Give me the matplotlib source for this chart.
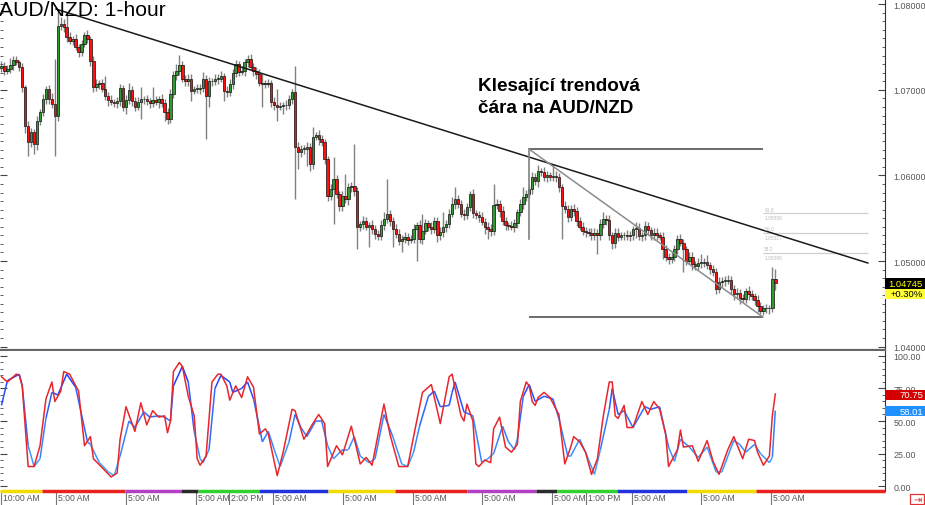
import numpy as np
import matplotlib
matplotlib.use("Agg")
import matplotlib.pyplot as plt
import matplotlib.transforms as mtransforms
from matplotlib.collections import LineCollection
from matplotlib.colors import LinearSegmentedColormap
from matplotlib.patches import Rectangle
from matplotlib.ticker import MultipleLocator

plt.rcParams['font.family'] = ['Liberation Sans', 'DejaVu Sans']

# =========================
# DATA (prices in pips above 1.04000, hourly candles)
# =========================

first_open_pips = 325
close_pips = [
    328, 322, 324, 329, 335, 332, 327, 303, 258, 239,
    251, 237, 264, 274, 289, 301, 289, 283, 269, 374,
    377, 373, 362, 357, 359, 350, 344, 353, 364, 359,
    334, 303, 307, 308, 301, 293, 288, 286, 285, 287,
    302, 280, 288, 300, 287, 280, 286, 289, 289, 287,
    285, 288, 286, 289, 285, 274, 266, 295, 317, 322,
    329, 313, 310, 313, 299, 301, 301, 302, 313, 293,
    310, 310, 313, 313, 316, 299, 297, 307, 320, 330,
    321, 322, 332, 336, 327, 322, 318, 308, 307, 307,
    308, 286, 282, 280, 281, 282, 282, 289, 297, 233,
    227, 231, 231, 233, 213, 245, 247, 242, 239, 219,
    176, 184, 196, 178, 164, 176, 172, 186, 188, 182,
    140, 143, 147, 140, 142, 137, 132, 129, 142, 149,
    155, 147, 137, 132, 123, 126, 128, 125, 126, 137,
    142, 126, 135, 144, 140, 137, 147, 130, 134, 140,
    143, 155, 167, 172, 167, 155, 154, 163, 178, 156,
    154, 151, 146, 140, 137, 135, 165, 167, 158, 147,
    142, 141, 140, 144, 157, 167, 175, 178, 184, 198,
    193, 205, 204, 198, 200, 198, 199, 198, 186, 164,
    161, 151, 161, 158, 147, 140, 135, 134, 133, 130,
    133, 130, 143, 149, 148, 130, 121, 133, 128, 130,
    130, 129, 130, 137, 139, 129, 130, 141, 136, 130,
    133, 130, 128, 114, 105, 102, 105, 114, 126, 121,
    114, 100, 105, 96, 94, 98, 98, 99, 95, 91,
    87, 67, 75, 77, 77, 78, 67, 61, 63, 57,
    56, 65, 61, 59, 54, 47, 42, 45, 45, 45,
    79, 74.5,
]

# wick lengths beyond the body, in pips
wick_up = [
    6, 4, 5, 8, 4, 5, 3, 4, 3, 5,
    4, 3, 5, 4, 6, 3, 5, 7, 53, 20,
    8, 6, 16, 5, 4, 6, 3, 5, 4, 6,
    4, 5, 6, 4, 5, 15, 4, 6, 3, 5,
    5, 4, 6, 8, 4, 5, 6, 14, 4, 5,
    4, 15, 5, 4, 6, 4, 5, 6, 5, 8,
    12, 5, 4, 6, 5, 4, 6, 5, 8, 4,
    5, 4, 6, 5, 6, 4, 5, 6, 4, 5,
    4, 6, 4, 5, 6, 4, 5, 6, 10, 4,
    5, 4, 6, 19, 5, 4, 6, 5, 4, 31,
    6, 5, 4, 6, 5, 11, 4, 6, 5, 3,
    4, 6, 25, 5, 4, 6, 26, 5, 4, 49,
    5, 4, 6, 5, 4, 6, 5, 4, 6, 8,
    41, 5, 4, 6, 5, 4, 6, 5, 4, 6,
    4, 6, 20, 5, 4, 6, 5, 4, 6, 17,
    5, 6, 8, 14, 5, 4, 6, 5, 4, 6,
    4, 5, 6, 4, 5, 6, 25, 5, 4, 6,
    5, 4, 6, 5, 4, 6, 12, 5, 4, 6,
    5, 7, 4, 6, 5, 4, 14, 6, 5, 4,
    6, 5, 4, 6, 5, 4, 6, 5, 4, 6,
    5, 4, 6, 8, 5, 6, 4, 5, 6, 4,
    4, 6, 5, 4, 6, 5, 4, 6, 5, 4,
    6, 5, 4, 6, 5, 4, 6, 5, 4, 6,
    5, 4, 6, 5, 4, 6, 10, 5, 8, 4,
    4, 5, 6, 4, 5, 6, 4, 5, 6, 4,
    5, 4, 6, 5, 4, 6, 5, 4, 5, 4,
    14, 12,
]
wick_dn = [
    4, 5, 3, 4, 6, 3, 5, 6, 8, 16,
    6, 12, 7, 5, 4, 6, 5, 4, 46, 5,
    4, 5, 6, 3, 5, 4, 6, 5, 3, 4,
    6, 5, 4, 6, 3, 5, 7, 4, 5, 6,
    6, 5, 8, 4, 6, 5, 4, 20, 6, 5,
    6, 5, 4, 7, 5, 10, 6, 5, 4, 6,
    5, 4, 6, 5, 12, 4, 5, 6, 4, 51,
    13, 5, 4, 6, 4, 12, 5, 4, 6, 5,
    5, 4, 6, 5, 4, 6, 5, 4, 27, 5,
    4, 6, 5, 16, 4, 9, 5, 4, 6, 61,
    20, 5, 6, 20, 8, 5, 4, 6, 5, 6,
    6, 5, 41, 4, 6, 5, 4, 6, 5, 6,
    26, 5, 6, 4, 24, 5, 6, 4, 5, 6,
    5, 6, 21, 5, 4, 12, 5, 6, 4, 5,
    37, 5, 6, 4, 5, 6, 4, 8, 5, 6,
    6, 5, 4, 6, 5, 4, 6, 5, 4, 6,
    5, 6, 4, 8, 11, 6, 5, 4, 6, 5,
    6, 5, 4, 6, 5, 4, 6, 5, 4, 6,
    4, 6, 5, 4, 6, 5, 4, 6, 5, 38,
    5, 6, 4, 5, 6, 4, 5, 6, 4, 5,
    6, 22, 5, 4, 6, 5, 7, 6, 5, 4,
    5, 4, 6, 5, 10, 4, 6, 5, 4, 6,
    5, 6, 4, 12, 5, 6, 4, 5, 6, 4,
    27, 5, 4, 6, 5, 4, 6, 5, 4, 6,
    5, 6, 4, 5, 6, 4, 5, 6, 4, 7,
    4, 5, 6, 4, 5, 6, 4, 5, 6, 7,
    5, 8,
]

# stochastic %K (red) and %D (blue), read at candle index
k_idx = [0, 2, 5, 6, 7, 9, 11, 13, 15, 17,
         18, 20, 21, 23, 26, 28, 30, 31, 34, 37,
         39, 40, 42, 45, 47, 49, 51, 53, 55, 56,
         57, 58, 60, 61, 63, 65, 66, 67, 69, 71,
         73, 74, 76, 77, 79, 81, 83, 85, 87, 89,
         90, 93, 95, 98, 99, 102, 105, 107, 109, 110,
         113, 115, 118, 121, 123, 125, 129, 131, 134, 137,
         139, 142, 145, 148, 151, 152, 153, 155, 156, 157,
         159, 160, 161, 163, 165, 166, 168, 170, 172, 174,
         175, 177, 178, 179, 180, 181, 183, 185, 188, 189,
         190, 192, 193, 195, 197, 199, 201, 203, 205, 206,
         207, 208, 210, 211, 213, 216, 218, 220, 222, 224,
         225, 228, 229, 230, 233, 235, 238, 240, 242, 245,
         247, 250, 252, 254, 255, 257, 259, 260, 261]
k_val = [84, 80, 86, 85, 77, 15, 15, 31, 67, 80,
         65, 73, 88, 86, 73, 31, 38, 21, 14, 7,
         10, 36, 61, 42, 64, 47, 58, 53, 54, 41,
         50, 88, 95, 92, 69, 54, 21, 16, 23, 80,
         86, 86, 77, 66, 77, 68, 84, 76, 40, 44,
         40, 8, 26, 59, 58, 36, 48, 55, 48, 15,
         31, 24, 46, 17, 22, 16, 63, 40, 15, 15,
         38, 72, 78, 48, 84, 86, 75, 54, 50, 63,
         50, 17, 15, 20, 18, 44, 53, 30, 26, 32,
         65, 80, 77, 65, 62, 68, 72, 68, 55, 36,
         17, 30, 38, 34, 26, 9, 21, 54, 80, 80,
         54, 52, 62, 45, 45, 65, 55, 65, 59, 40,
         15, 28, 43, 30, 31, 19, 35, 19, 9, 28,
         38, 21, 36, 35, 26, 16, 23, 54, 70.75]

d_idx = [0, 2, 6, 7, 9, 11, 13, 15, 17, 19,
         22, 25, 29, 30, 33, 36, 38, 40, 43, 45,
         48, 50, 53, 55, 57, 58, 61, 63, 65, 67,
         68, 70, 72, 74, 77, 78, 81, 83, 85, 88,
         90, 92, 94, 97, 99, 101, 103, 106, 108, 110,
         112, 115, 117, 119, 121, 124, 126, 129, 132, 135,
         137, 139, 141, 144, 146, 148, 151, 152, 153, 156,
         159, 162, 164, 166, 169, 171, 173, 174, 176, 178,
         180, 183, 186, 188, 191, 192, 195, 197, 200, 202,
         205, 206, 208, 210, 213, 217, 219, 222, 225, 227,
         229, 232, 235, 238, 241, 243, 247, 249, 251, 254,
         256, 259, 260, 261]
d_val = [62, 81, 86, 77, 31, 15, 21, 52, 72, 70,
         86, 76, 34, 32, 18, 11, 8, 23, 50, 45,
         57, 53, 54, 53, 50, 77, 92, 80, 42, 21,
         18, 28, 75, 85, 80, 72, 75, 80, 67, 34,
         42, 28, 15, 34, 55, 45, 38, 50, 50, 31,
         21, 28, 28, 38, 23, 18, 21, 55, 38, 17,
         15, 26, 46, 69, 73, 61, 62, 72, 80, 57,
         54, 18, 21, 25, 46, 34, 28, 36, 69, 78,
         65, 69, 67, 52, 23, 23, 36, 26, 9, 28,
         59, 75, 55, 58, 45, 61, 59, 61, 30, 19,
         36, 30, 22, 30, 11, 11, 35, 32, 26, 32,
         25, 18, 22, 58.01]

# time axis
tick_idx = [0, 18.4, 42, 65.6, 76.7, 91.6, 115.2, 138.8, 162.1, 185.7,
            197.1, 212.7, 235.9, 259.5]
tick_labels = ["10:00 AM", "5:00 AM", "5:00 AM", "5:00 AM", "2:00 PM",
               "5:00 AM", "5:00 AM", "5:00 AM", "5:00 AM", "5:00 AM",
               "1:00 PM", "5:00 AM", "5:00 AM", "5:00 AM"]
day_edges = [-0.5, 13.7, 41.7, 60.5, 66.3, 86.9, 110.1, 132.7, 157, 180.3,
             187.4, 207.6, 231.2, 254.5, 298]
day_colors = ["#f2dc00", "#e8231e", "#b23fc4", "#2a2a2a", "#2fd22f", "#2233dd",
              "#f2dc00", "#e8231e", "#b23fc4", "#2a2a2a", "#2fd22f", "#2233dd",
              "#f2dc00", "#e8231e"]

price_ticks = [1.04, 1.05, 1.06, 1.07, 1.08]
stoch_ticks = [0, 25, 50, 75, 100]

# drawn objects
trend_x = [18.4, 292.2]
trend_y = [1.07943, 1.04977]
fib_x = [177.9, 256.8, 292.2]
fib_hi, fib_lo, fib_mid = 1.06308, 1.04346, 1.05257
fib_levels = [1.05095, 1.05327, 1.05558]
fib_names = ["38.2", "50.0", "61.8"]

# =========================
# DERIVED OHLC
# =========================

close = 1.04 + np.array(close_pips) / 1e4
opens = np.r_[1.04 + first_open_pips / 1e4, close[:-1]]
high = np.maximum(opens, close) + np.array(wick_up) / 1e4
low = np.minimum(opens, close) - np.array(wick_dn) / 1e4
idx = np.arange(len(close))

# =========================
# FIGURE
# =========================

W, H = 925, 506
fig = plt.figure(figsize=(W / 100, H / 100), dpi=100)
fig.patch.set_facecolor("white")
ax = fig.add_axes([0, 1 - 351 / H, 885 / W, 351 / H])
ax2 = fig.add_axes([0, 1 - 492 / H, 885 / W, 140 / H], sharex=ax)

y0, y1 = 1.039605, 1.08061
ax.set_xlim(-0.5, 298)
ax.set_ylim(y0, y1)

# candles
ax.vlines(idx, low, high, color="#808080", lw=1, zorder=1)
up = close >= opens
body_lo = np.minimum(opens, close)
body_h = np.maximum(np.abs(close - opens), 0.00006)
ax.bar(idx, body_h, bottom=body_lo, width=0.82,
       color=np.where(up, "#2f9a2f", "#ff1010"),
       edgecolor="#111111", linewidth=0.5, zorder=2)

# trend line + fib drawing
ax.plot(trend_x, trend_y, color="#1a1a1a", lw=1.1, zorder=3)
ax.plot([fib_x[0], fib_x[0]], [fib_hi, fib_mid], color="#808080", lw=1.2, zorder=3)
ax.hlines([fib_hi, fib_lo], fib_x[0], fib_x[1], color="#444444", lw=1.1, zorder=3)
ax.plot([fib_x[0], fib_x[1]], [fib_hi, fib_lo], color="#8c8c8c", lw=1.1, zorder=3)
ax.hlines(fib_levels, fib_x[1], fib_x[2], color="#cfcfcf", lw=0.9, zorder=1)
for lev, name in zip(fib_levels, fib_names):
    ax.text(fib_x[1] + 0.5, lev + 0.0002, name, fontsize=3.5, color="#bbbbbb",
            va="bottom")
    ax.text(fib_x[1] + 0.5, lev - 0.0002, f"{lev:.5f}", fontsize=3.5,
            color="#bbbbbb", va="top")

# price axis
ax.set_yticks(price_ticks)
ax.set_yticklabels([f"{v:.5f}" for v in price_ticks])
ax.yaxis.set_minor_locator(MultipleLocator(0.001))
ax.tick_params(axis="y", which="both", direction="in", left=True, right=True,
               labelleft=False, labelright=True, labelsize=6.4,
               labelcolor="#555555", color="#444444", pad=6)
ax.tick_params(axis="y", which="major", length=5)
ax.tick_params(axis="y", which="minor", length=2.5)
ax.tick_params(axis="x", which="both", bottom=False, labelbottom=False)
for s in ["top", "left"]:
    ax.spines[s].set_visible(False)
ax.spines["right"].set_color("#333333")
ax.spines["bottom"].set_color("#666666")
ax.spines["bottom"].set_linewidth(1.6)

# last price boxes
pp = (y1 - y0) / 351
last = close[-1]
trans = ax.get_yaxis_transform()
ax.add_patch(Rectangle((1.0, last - 6 * pp), 40 / 885, 11 * pp, transform=trans,
                       fc="black", ec="none", clip_on=False, zorder=5))
ax.add_patch(Rectangle((1.0, last - 16 * pp), 40 / 885, 10 * pp, transform=trans,
                       fc="#ffff33", ec="none", clip_on=False, zorder=5))
ax.text(1.0 + 38 / 885, last - 0.5 * pp, f"{last:.5f}", transform=trans,
        ha="right", va="center", fontsize=6.8, color="#ffff00", zorder=6)
ax.text(1.0 + 38 / 885, last - 11 * pp, "+0.30%", transform=trans,
        ha="right", va="center", fontsize=6.8, color="black", zorder=6)

# =========================
# STOCHASTIC
# =========================

ax2.set_ylim(-3.8, 103.8)
d_idx_a = np.array(d_idx, dtype=float)
d_val_a = np.array(d_val, dtype=float)
pts = np.column_stack([d_idx_a, d_val_a])
segs = np.stack([pts[:-1], pts[1:]], axis=1)
blues = LinearSegmentedColormap.from_list("blues", ["#45b2ff", "#1a2dff"])
lc = LineCollection(segs, cmap=blues, norm=plt.Normalize(5, 95), linewidths=1.1,
                    zorder=2)
lc.set_array((d_val_a[:-1] + d_val_a[1:]) / 2)
ax2.add_collection(lc)
ax2.plot(k_idx, k_val, color="#e8262b", lw=1.1, zorder=3)

ax2.set_yticks(stoch_ticks)
ax2.set_yticklabels([f"{v:.2f}" for v in stoch_ticks])
ax2.yaxis.set_minor_locator(MultipleLocator(5))
ax2.tick_params(axis="y", which="both", direction="in", left=True, right=True,
                labelleft=False, labelright=True, labelsize=6.4,
                labelcolor="#555555", color="#444444", pad=6)
ax2.tick_params(axis="y", which="major", length=5)
ax2.tick_params(axis="y", which="minor", length=2.5)
for s in ["top", "left", "bottom"]:
    ax2.spines[s].set_visible(False)
ax2.spines["right"].set_color("#333333")

# time ticks and day colour strip
ax2.set_xticks(tick_idx)
ax2.tick_params(axis="x", direction="out", length=10, color="#777777",
                labelbottom=False)
ax2.hlines([0] * len(day_colors), day_edges[:-1], day_edges[1:],
           colors=day_colors, lw=2.5, transform=ax2.get_xaxis_transform(),
           clip_on=False, zorder=4)
lab_trans = mtransforms.offset_copy(ax2.get_xaxis_transform(), fig=fig,
                                    x=2, y=-7, units="dots")
for t, lab in zip(tick_idx, tick_labels):
    ax2.text(t, 0, lab, transform=lab_trans, ha="left", va="center",
             fontsize=6.2, color="#555555", clip_on=False)

# last stochastic value boxes
sp = 107.6 / 140
t2 = ax2.get_yaxis_transform()
for v, col in [(k_val[-1], "#d40000"), (d_val[-1], "#1e90ff")]:
    ax2.add_patch(Rectangle((1.0, v - 5.5 * sp), 40 / 885, 10 * sp, transform=t2,
                            fc=col, ec="none", clip_on=False, zorder=5))
    ax2.text(1.0 + 38 / 885, v - 0.5 * sp, f"{v:.2f}", transform=t2, ha="right",
             va="center", fontsize=6.8, color="white", zorder=6)

# =========================
# TEXT
# =========================

fig.text(-1 / W, 1 - 1 / H, "AUD/NZD: 1-hour", fontsize=15.2, ha="left", va="top")
fig.text(478 / W, 1 - 78 / H, "Klesající trendová\nčára na AUD/NZD",
         fontsize=13.6, fontweight="bold", ha="left", va="top", linespacing=1.4)

fig.patches.append(Rectangle((910 / W, 1 - 505 / H), 14 / W, 10 / H,
                             transform=fig.transFigure, fc="white", ec="#e03030",
                             lw=0.9))
fig.text(917 / W, 1 - 500 / H, "⇥", fontsize=7, color="#e03030", ha="center",
         va="center", family=["DejaVu Sans"])

fig.savefig("out.png", dpi=100)
